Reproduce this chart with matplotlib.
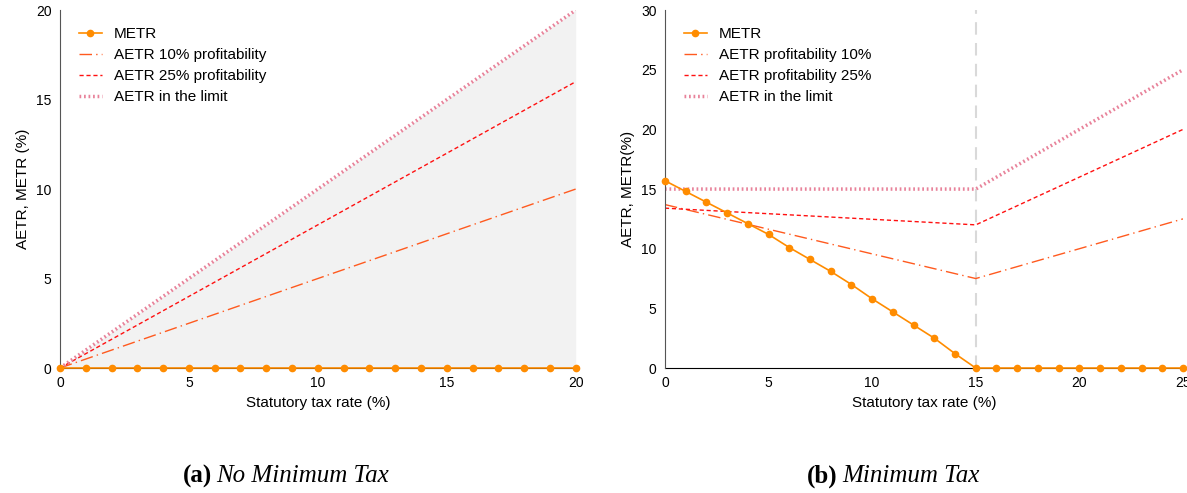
import numpy as np
import matplotlib
matplotlib.use("Agg")
import matplotlib.pyplot as plt

plt.rcParams['font.family'] = ['Liberation Sans', 'DejaVu Sans']

# panel (a): no minimum tax
rate_a = list(range(0, 21))
metr_a = [0] * 21
aetr10_a = [0, 10]
aetr25_a = [0, 16]
limit_a = [0, 20]
ends_a = [0, 20]

# panel (b): minimum tax
rate_b = list(range(0, 26))
metr_b = [15.7, 14.8, 13.9, 13.0, 12.1, 11.2, 10.1, 9.1, 8.1, 7.0, 5.8,
          4.7, 3.6, 2.5, 1.2, 0, 0, 0, 0, 0, 0, 0, 0, 0, 0, 0]
knots_b = [0, 15, 25]
aetr10_b = [13.7, 7.5, 12.5]
aetr25_b = [13.4, 12.0, 20.0]
limit_b = [15, 15, 25]

c_metr = '#ff8c00'
c_10 = '#ff5a1f'
c_25 = '#ff1010'
c_lim = '#e8829a'


def style(ax, xmax, ymax, step):
    ax.set_xlim(0, xmax)
    ax.set_ylim(0, ymax)
    ax.set_xticks(range(0, xmax + 1, 5))
    ax.set_yticks(range(0, ymax + 1, step))
    ax.tick_params(length=0, labelsize=10, pad=6)
    for s in ['top', 'right']:
        ax.spines[s].set_visible(False)
    ax.spines['left'].set_color('#555555')
    ax.spines['bottom'].set_color('black')
    ax.spines['bottom'].set_zorder(1)
    ax.set_xlabel('Statutory tax rate (%)', fontsize=11)


fig = plt.figure(figsize=(11.87, 4.93), dpi=100)
ax1 = fig.add_axes([0.0505, 0.2535, 0.4345, 0.726])
ax2 = fig.add_axes([0.5602, 0.2535, 0.4364, 0.726])

# (a)
ax1.fill_between(ends_a, [0, 0], limit_a, color='#f2f2f2', lw=0, zorder=0)
ax1.plot(rate_a, metr_a, color=c_metr, marker='o', ms=4.5, lw=1.2,
         label='METR', zorder=5, clip_on=False)
ax1.plot(ends_a, aetr10_a, color=c_10, lw=1, dashes=(9, 3, 1, 3),
         label='AETR 10% profitability')
ax1.plot(ends_a, aetr25_a, color=c_25, lw=1, dashes=(3, 2),
         label='AETR 25% profitability')
ax1.plot(ends_a, limit_a, color=c_lim, lw=2.5, dashes=(0.5, 0.8),
         label='AETR in the limit')
style(ax1, 20, 20, 5)
ax1.set_ylabel('AETR, METR (%)', fontsize=11)
ax1.legend(loc='upper left', frameon=False, fontsize=11, handlelength=1.5,
           bbox_to_anchor=(0.01, 0.99), labelspacing=0.45)

# (b)
ax2.axvline(15, color='#d9d9d9', lw=1.5, dashes=(6, 4), zorder=0)
ax2.plot(rate_b, metr_b, color=c_metr, marker='o', ms=4.5, lw=1.2,
         label='METR', zorder=5, clip_on=False)
ax2.plot(knots_b, aetr10_b, color=c_10, lw=1, dashes=(9, 3, 1, 3),
         label='AETR profitability 10%')
ax2.plot(knots_b, aetr25_b, color=c_25, lw=1, dashes=(3, 2),
         label='AETR profitability 25%')
ax2.plot(knots_b, limit_b, color=c_lim, lw=2.5, dashes=(0.5, 0.8),
         label='AETR in the limit')
style(ax2, 25, 30, 5)
ax2.set_ylabel('AETR, METR(%)', fontsize=11)
ax2.legend(loc='upper left', frameon=False, fontsize=11, handlelength=1.5,
           bbox_to_anchor=(0.01, 0.99), labelspacing=0.45)

# captions
cap = dict(fontsize=18, family='Liberation Serif', va='baseline')
fig.text(0.1785, 0.022, '(a)', weight='bold', ha='right', **cap)
fig.text(0.1825, 0.022, 'No Minimum Tax', style='italic', ha='left', **cap)
fig.text(0.7055, 0.022, '(b)', weight='bold', ha='right', **cap)
fig.text(0.7095, 0.022, 'Minimum Tax', style='italic', ha='left', **cap)

fig.savefig('out.png', dpi=100)
